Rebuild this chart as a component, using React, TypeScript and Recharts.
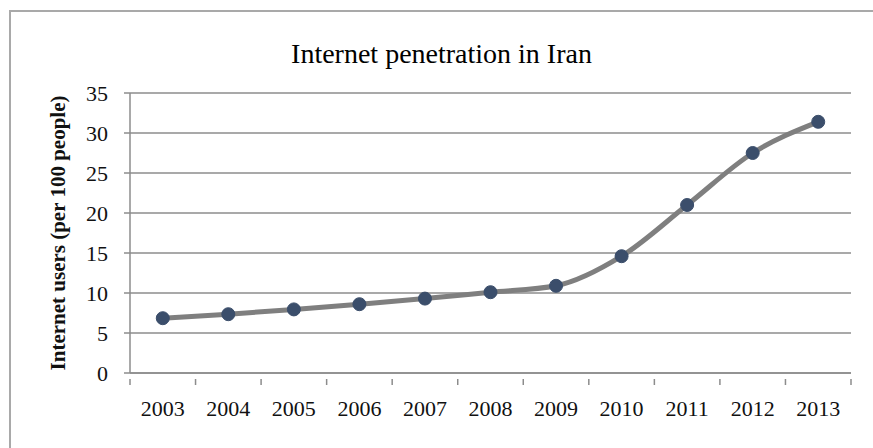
import React from "react";
import {
  LineChart,
  Line,
  XAxis,
  YAxis,
  CartesianGrid,
} from "recharts";

const years = ["2003", "2004", "2005", "2006", "2007", "2008", "2009", "2010", "2011", "2012", "2013"];
const usersPer100 = [6.85, 7.35, 7.95, 8.6, 9.3, 10.1, 10.9, 14.6, 21.0, 27.5, 31.4];
const yTicks = [0, 5, 10, 15, 20, 25, 30, 35];

const data = years.map((year, i) => ({ year, users: usersPer100[i] }));

const WIDTH = 873;
const HEIGHT = 448;
const MARGIN = { top: 93, right: 22, bottom: 0, left: 8 };
const Y_AXIS_WIDTH = 122;
const PLOT_WIDTH = WIDTH - MARGIN.left - MARGIN.right - Y_AXIS_WIDTH;
const HALF_BAND = PLOT_WIDTH / years.length / 2;

const AXIS_COLOR = "#8c8c8c";
const FONT = "'Liberation Serif', 'Times New Roman', serif";

// Excel style: tick marks sit between categories, labels in the middle
const XTick = (props: any) => {
  const { x, y, payload, index } = props;
  const isLast = index === years.length - 1;
  return (
    <g>
      <line x1={x - HALF_BAND} x2={x - HALF_BAND} y1={y - 21} y2={y - 15} stroke={AXIS_COLOR} strokeWidth={1.5} />
      {isLast && (
        <line x1={x + HALF_BAND} x2={x + HALF_BAND} y1={y - 21} y2={y - 15} stroke={AXIS_COLOR} strokeWidth={1.5} />
      )}
      <text x={x} y={y} dy="0.71em" textAnchor="middle" fill="#111" fontSize={22} fontFamily={FONT}>
        {payload.value}
      </text>
    </g>
  );
};

const YLabel = (props: any) => {
  const { viewBox } = props;
  const cx = 58;
  const cy = viewBox.y + viewBox.height / 2;
  return (
    <text
      x={cx}
      y={cy}
      transform={`rotate(-90 ${cx} ${cy})`}
      textAnchor="middle"
      dominantBaseline="central"
      fill="#111"
      fontSize={21}
      fontWeight="bold"
      fontFamily={FONT}
    >
      Internet users (per 100 people)
    </text>
  );
};

export default function App() {
  return (
    <div style={{ position: "absolute", left: 0, top: 0, width: WIDTH, height: HEIGHT, background: "#fff" }}>
      <div
        style={{
          position: "absolute",
          left: 9,
          top: 10,
          width: WIDTH - 9,
          height: HEIGHT - 10,
          borderTop: "2px solid #a9a9a9",
          borderLeft: "2px solid #a9a9a9",
          boxSizing: "border-box",
        }}
      />
      <div
        style={{
          position: "absolute",
          left: 0,
          top: 38,
          width: 883,
          textAlign: "center",
          fontFamily: FONT,
          fontSize: 28,
          color: "#000",
          lineHeight: "32px",
        }}
      >
        Internet penetration in Iran
      </div>
      <div style={{ position: "absolute", left: 0, top: 0 }}>
        <LineChart width={WIDTH} height={HEIGHT} data={data} margin={MARGIN}>
          <CartesianGrid vertical={false} stroke={AXIS_COLOR} strokeWidth={1.5} />
          <XAxis
            dataKey="year"
            height={75}
            padding={{ left: HALF_BAND, right: HALF_BAND }}
            tickLine={false}
            axisLine={{ stroke: AXIS_COLOR, strokeWidth: 1.5 }}
            tick={<XTick />}
            tickMargin={21}
            interval={0}
          />
          <YAxis
            width={Y_AXIS_WIDTH}
            domain={[0, 35]}
            ticks={yTicks}
            interval={0}
            tickSize={6}
            tickMargin={16}
            tickLine={{ stroke: AXIS_COLOR, strokeWidth: 1.5 }}
            axisLine={{ stroke: AXIS_COLOR, strokeWidth: 1.5 }}
            tick={{ fill: "#111", fontSize: 22, fontFamily: FONT }}
            label={<YLabel />}
          />
          <Line
            type="monotone"
            dataKey="users"
            stroke="#7f7f7f"
            strokeWidth={5}
            dot={{ r: 6.5, fill: "#3b4e6b", stroke: "#3b4e6b", strokeWidth: 1 }}
            activeDot={false}
            isAnimationActive={false}
          />
        </LineChart>
      </div>
    </div>
  );
}
